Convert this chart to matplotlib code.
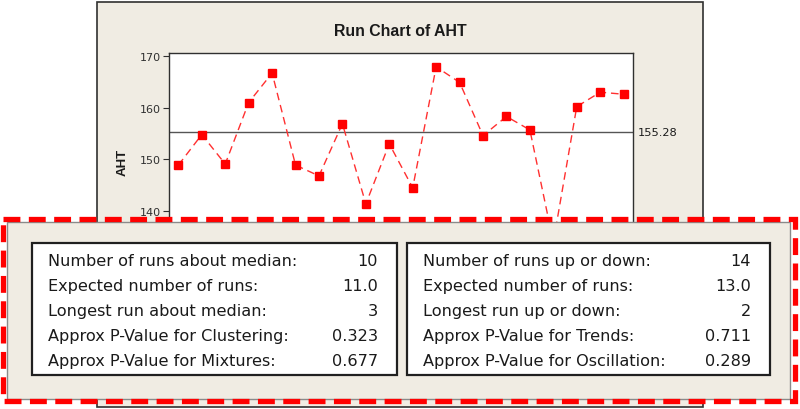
import matplotlib
matplotlib.use("Agg")
import matplotlib.pyplot as plt
from matplotlib.patches import Rectangle
from matplotlib.transforms import blended_transform_factory

plt.rcParams["font.family"] = ["DejaVu Sans"]

# ================= DATA =================
observations = list(range(1, 21))
aht = [148.9, 154.8, 149.1, 161.0, 166.7, 148.9, 146.8, 156.9, 141.4, 153.0,
       144.5, 167.9, 164.9, 154.6, 158.3, 155.7, 134.0, 160.2, 163.0, 162.6]
median_aht = 155.28
yticks = [140, 150, 160, 170]

stats_median = [
    ("Number of runs about median:", "10"),
    ("Expected number of runs:", "11.0"),
    ("Longest run about median:", "3"),
    ("Approx P-Value for Clustering:", "0.323"),
    ("Approx P-Value for Mixtures:", "0.677"),
]
stats_updown = [
    ("Number of runs up or down:", "14"),
    ("Expected number of runs:", "13.0"),
    ("Longest run up or down:", "2"),
    ("Approx P-Value for Trends:", "0.711"),
    ("Approx P-Value for Oscillation:", "0.289"),
]

W, H = 800, 410
BEIGE = "#F0ECE3"
TXT = "#1a1a1a"
BOLD_FONT = ["Liberation Sans", "DejaVu Sans"]


def fig_rect(x0, y0, x1, y1):
    """pixel box (top-left origin) -> figure fraction [l, b, w, h]"""
    return [x0 / W, 1 - y1 / H, (x1 - x0) / W, (y1 - y0) / H]


fig = plt.figure(figsize=(8, 4.1), dpi=100)
fig.patch.set_facecolor("white")

# ================= MINITAB FRAME =================
ax_bg = fig.add_axes([0, 0, 1, 1], zorder=0)
ax_bg.set_xlim(0, W)
ax_bg.set_ylim(H, 0)
ax_bg.axis("off")
ax_bg.add_patch(Rectangle((96.5, 2.5), 606, 405, facecolor=BEIGE,
                          edgecolor="#303030", lw=1.2))
ax_bg.text(400, 31, "Run Chart of AHT", ha="center", va="center",
           fontsize=11.4, fontweight="bold", family=BOLD_FONT, color=TXT)

# ================= RUN CHART =================
ax = fig.add_axes(fig_rect(169, 54, 633, 270), zorder=1)
ax.set_facecolor("white")
ax.plot(observations, aht, color="#FF3030", lw=1.0, ls=(0, (5.5, 3.5)),
        marker="s", ms=5.5, mfc="#FF0000", mec="#FF0000", zorder=3)
ax.axhline(median_aht, color="#555555", lw=1.0, zorder=2)
ax.set_xlim(0.6, 20.4)
ax.set_ylim(128.8, 170.58)
ax.set_xticks([])
ax.set_yticks(yticks)
ax.tick_params(axis="y", direction="out", length=4, width=0.8,
               labelsize=8, colors="#303030", pad=2)
for s in ax.spines.values():
    s.set_color("#303030")
    s.set_linewidth(1.0)
ax.set_ylabel("AHT", fontsize=9.5, fontweight="bold", family=BOLD_FONT,
              color=TXT, labelpad=8)

trans = blended_transform_factory(ax.transAxes, ax.transData)
ax.text(1.01, median_aht, f"{median_aht:.2f}", transform=trans,
        ha="left", va="center", fontsize=8.2, color=TXT)

# ================= OVERLAY PANEL =================
ax_o = fig.add_axes([0, 0, 1, 1], zorder=5)
ax_o.set_xlim(0, W)
ax_o.set_ylim(H, 0)
ax_o.axis("off")

ax_o.add_patch(Rectangle((7, 223), 783, 177, facecolor=BEIGE,
                         edgecolor="#8a8a8a", lw=1.0))
ax_o.add_patch(Rectangle((2.5, 220), 792, 182, fill=False,
                         edgecolor="#FF0000", lw=3.8, ls=(0, (3.2, 1.6)),
                         joinstyle="miter"))

boxes = [(32, 397, stats_median), (407, 770, stats_updown)]
for x0, x1, rows in boxes:
    ax_o.add_patch(Rectangle((x0, 243.5), x1 - x0, 132, facecolor="white",
                             edgecolor="#202020", lw=1.6))
    for i, (label, val) in enumerate(rows):
        y = 262 + i * 25
        ax_o.text(x0 + 16, y, label, ha="left", va="center",
                  fontsize=11.6, color=TXT)
        ax_o.text(x1 - 19, y, val, ha="right", va="center",
                  fontsize=11.6, color=TXT)

fig.savefig("out.png", dpi=100)
